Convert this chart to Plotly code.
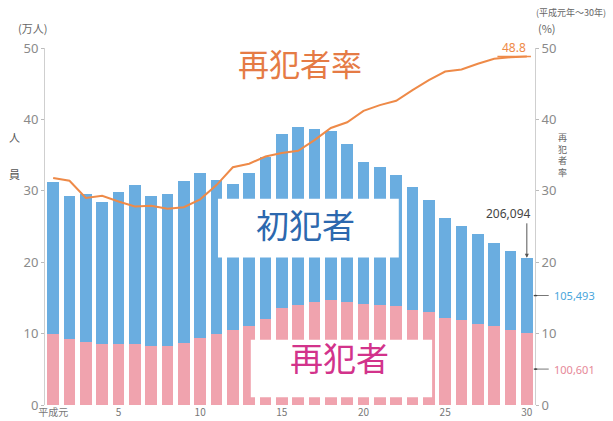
import plotly.graph_objects as go

# Heisei years 1..30
years = list(range(1, 31))
tick_vals = [1, 5, 10, 15, 20, 25, 30]
tick_text = ["平成元", "5", "10", "15", "20", "25", "30"]

# 再犯者 (recidivists), 万人
recid = [10.0, 9.3, 8.8, 8.5, 8.5, 8.6, 8.25, 8.25, 8.75, 9.45,
         9.9, 10.45, 11.05, 12.1, 13.65, 13.95, 14.45, 14.75, 14.45, 14.15,
         13.95, 13.85, 13.35, 13.05, 12.25, 11.85, 11.4, 11.05, 10.55, 10.06]
# 初犯者 (first-time offenders), 万人
first = [21.3, 20.03, 20.82, 19.91, 21.27, 22.2, 21.08, 21.31, 22.61, 22.98,
         21.64, 20.51, 21.48, 22.66, 24.31, 24.95, 24.25, 23.68, 22.11, 19.83,
         19.34, 18.41, 17.21, 15.65, 14.0, 13.26, 12.54, 11.59, 10.95, 10.55]
# 再犯者率 (%)
rate = [31.8, 31.4, 29.0, 29.3, 28.5, 27.8, 27.9, 27.5, 27.7, 28.8,
        30.8, 33.3, 33.8, 34.8, 35.3, 35.6, 37.1, 38.8, 39.6, 41.2,
        42.0, 42.6, 44.1, 45.5, 46.7, 47.0, 47.8, 48.5, 48.7, 48.8]

total_last_label = "206,094"
first_last_label = "105,493"
recid_last_label = "100,601"
rate_last_label = "48.8"

BLUE = "#6AADE0"
PINK = "#F0A3AE"
ORANGE = "#EE8A48"
JP = "Noto Sans CJK JP"
TICKC = "#8a8a8a"

fig = go.Figure()
fig.add_trace(go.Bar(x=years, y=recid, marker=dict(color=PINK, line=dict(width=0)), name="再犯者"))
fig.add_trace(go.Bar(x=years, y=first, marker=dict(color=BLUE, line=dict(width=0)), name="初犯者"))
fig.add_trace(go.Scatter(x=years, y=rate, yaxis="y2", mode="lines",
                         line=dict(color=ORANGE, width=2), name="再犯者率"))

fig.update_layout(
    width=613, height=421,
    margin=dict(l=45, r=78, t=48, b=16, autoexpand=False),
    paper_bgcolor="white", plot_bgcolor="white",
    barmode="stack", bargap=0.27,
    showlegend=False,
    font=dict(family=JP, color=TICKC),
    xaxis=dict(range=[0.5, 30.5], tickmode="array", tickvals=tick_vals, ticktext=tick_text,
               showgrid=False, zeroline=False, showline=False, ticks="", automargin=False,
               ticklabelstandoff=0, tickfont=dict(size=10, color="#777")),
    yaxis=dict(range=[0, 50], dtick=10, showgrid=False, zeroline=False, automargin=False,
               showline=True, linecolor="#cfcfcf", linewidth=1,
               ticks="outside", ticklen=3, tickcolor="#bbb",
               tickfont=dict(size=13, color=TICKC, family="Noto Sans")),
    yaxis2=dict(range=[0, 50], dtick=10, overlaying="y", side="right", automargin=False,
                showgrid=False, zeroline=False,
                showline=True, linecolor="#cfcfcf", linewidth=1,
                ticks="outside", ticklen=3, tickcolor="#bbb",
                tickfont=dict(size=13, color=TICKC, family="Noto Sans")),
)

shapes = []
# white label boxes
shapes.append(dict(type="rect", xref="paper", yref="paper", x0=0.353, x1=0.722, y0=0.413, y1=0.578,
                   fillcolor="white", line=dict(width=0), layer="above"))
shapes.append(dict(type="rect", xref="paper", yref="paper", x0=0.420, x1=0.790, y0=0.022, y1=0.183,
                   fillcolor="white", line=dict(width=0), layer="above"))
# underline of 48.8
shapes.append(dict(type="line", xref="x", yref="y2", x0=years[-1] - 1.8, x1=years[-1] + 0.25,
                   y0=rate[-1], y1=rate[-1], line=dict(color=ORANGE, width=1.5)))
# leaders for last-year values
y_first_mid = recid[-1] + first[-1] / 2
y_recid_mid = recid[-1] / 2
for yy in (y_first_mid, y_recid_mid):
    shapes.append(dict(type="line", xref="paper", yref="y", x0=1.0, x1=1.028, y0=yy, y1=yy,
                       line=dict(color="#777", width=1)))
    shapes.append(dict(type="circle", xref="paper", yref="y", x0=0.997, x1=1.005,
                       y0=yy - 0.12, y1=yy + 0.12, fillcolor="#444", line=dict(width=0)))
fig.update_layout(shapes=shapes)

M = dict(xanchor="center", yanchor="middle", showarrow=False)
ann = []
ann.append(dict(text="再犯者率", xref="paper", yref="paper", x=0.52, y=0.958, **M,
                font=dict(size=31, color="#E57B45", family=JP)))
ann.append(dict(text="初犯者", xref="paper", yref="paper", x=0.532, y=0.508, **M,
                font=dict(size=33, color="#2C68AE", family=JP)))
ann.append(dict(text="再犯者", xref="paper", yref="paper", x=0.60, y=0.134, **M,
                font=dict(size=33, color="#D2338B", family=JP)))
ann.append(dict(text=rate_last_label, xref="x", yref="y2", x=years[-1] - 0.8, y=rate[-1],
                yshift=9, **M, font=dict(size=12, color=ORANGE, family="Noto Sans")))
# 206,094 with arrow
ann.append(dict(text="", xref="x", yref="y", x=years[-1], y=recid[-1] + first[-1],
                showarrow=True, ax=0, ay=-36, arrowhead=2, arrowsize=0.8, arrowwidth=1,
                arrowcolor="#555"))
ann.append(dict(text=total_last_label, xref="x", yref="y", x=years[-1], y=recid[-1] + first[-1],
                xshift=-18, yshift=44, **M,
                font=dict(size=12, color="#444", family="Noto Sans")))
ann.append(dict(text=first_last_label, xref="paper", yref="y", x=1.035, y=y_first_mid,
                xanchor="left", yanchor="middle", showarrow=False,
                font=dict(size=11, color="#4AA6DC", family="Noto Sans")))
ann.append(dict(text=recid_last_label, xref="paper", yref="y", x=1.035, y=y_recid_mid,
                xanchor="left", yanchor="middle", showarrow=False,
                font=dict(size=11, color="#E68898", family="Noto Sans")))
# axis captions
ann.append(dict(text="(万人)", xref="paper", yref="paper", x=-0.026, y=1.028, xanchor="center",
                yanchor="bottom", showarrow=False, font=dict(size=11, color="#666")))
ann.append(dict(text="人", xref="paper", yref="paper", x=-0.062, y=0.752, **M,
                font=dict(size=11, color="#555")))
ann.append(dict(text="員", xref="paper", yref="paper", x=-0.062, y=0.648, **M,
                font=dict(size=11, color="#555")))
ann.append(dict(text="(%)", xref="paper", yref="paper", x=1.003, y=1.028, xanchor="left",
                yanchor="bottom", showarrow=False, font=dict(size=11, color="#666")))
ann.append(dict(text="(平成元年～30年)", xref="paper", yref="paper", x=0.998, y=1.075,
                xanchor="left", yanchor="bottom", showarrow=False, font=dict(size=9, color="#666")))
ann.append(dict(text="再<br>犯<br>者<br>率", xref="paper", yref="paper", x=1.057, y=0.70, **M,
                font=dict(size=9, color="#666")))
fig.update_layout(annotations=ann)

fig.write_html("out.html")
